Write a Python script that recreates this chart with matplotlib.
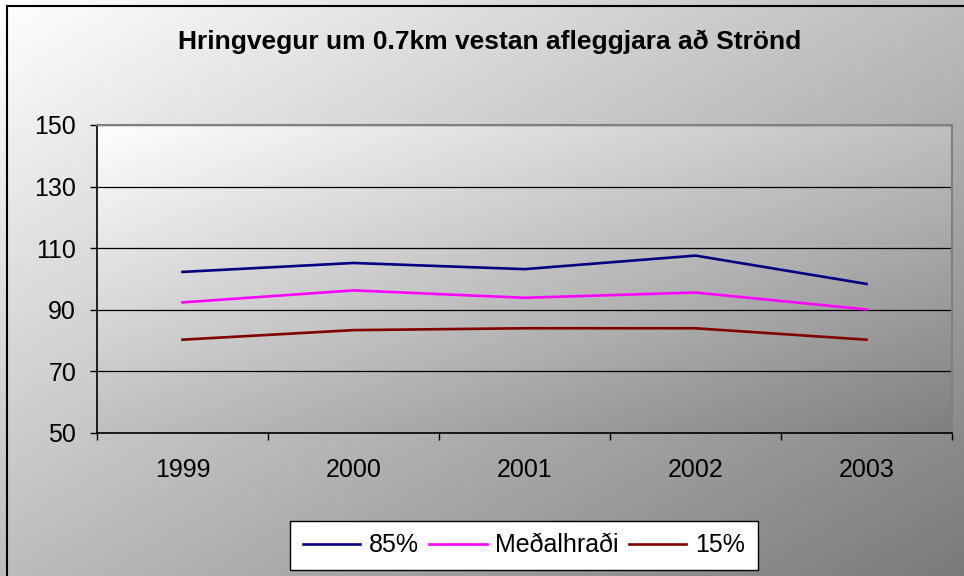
import numpy as np
import matplotlib.pyplot as plt
from matplotlib.patches import Rectangle

plt.rcParams["font.family"] = ["Liberation Sans", "DejaVu Sans"]

years = ["1999", "2000", "2001", "2002", "2003"]
p85 = [102.3, 105.2, 103.2, 107.6, 98.4]
medal = [92.4, 96.3, 93.9, 95.6, 90.1]
p15 = [80.3, 83.4, 84.0, 84.0, 80.3]

W, H = 964, 576
fig = plt.figure(figsize=(W / 100, H / 100), dpi=100)


def gradient(n=256, lo=1.0, hi=0.5):
    xx, yy = np.meshgrid(np.linspace(0, 1, n), np.linspace(0, 1, n))
    t = (xx + yy) / 2
    g = lo + (hi - lo) * t
    return np.dstack([g, g, g])


# figure background with diagonal gradient and frame
bg = fig.add_axes([0, 0, 1, 1], zorder=-2)
bg.imshow(gradient(lo=1.0, hi=0.48), extent=[0, 1, 0, 1], aspect="auto",
          origin="upper")
bg.add_patch(Rectangle((7 / W, -0.1), 1.2, 1 - 6 / H + 0.1, fill=False,
                       ec="black", lw=1.5))
bg.set_xlim(0, 1); bg.set_ylim(0, 1)
bg.axis("off")

ax = fig.add_axes([97 / W, 1 - 433 / H, (952 - 97) / W, (433 - 125) / H])
ax.imshow(gradient(lo=1.0, hi=0.5), extent=[0, 1, 0, 1], aspect="auto",
          origin="upper", transform=ax.transAxes, zorder=0)

x = np.arange(len(years))
ax.plot(x, p85, color="#000080", lw=1.9, label="85%", zorder=3)
ax.plot(x, medal, color="#FF00FF", lw=1.9, label="Meðalhraði", zorder=3)
ax.plot(x, p15, color="#800000", lw=1.9, label="15%", zorder=3)

ax.set_xlim(-0.5, len(years) - 0.5)
ax.set_ylim(50, 150)
ax.set_yticks([50, 70, 90, 110, 130, 150])
ax.set_xticks(x)
ax.set_xticklabels(years)
ax.set_xticks(np.arange(-0.5, len(years)), minor=True)
ax.tick_params(axis="x", which="major", length=0, pad=18, labelsize=18)
ax.tick_params(axis="x", which="minor", length=5, width=1, direction="out")
ax.tick_params(axis="y", length=5, width=1, pad=10, labelsize=18)
ax.grid(axis="y", color="black", lw=0.9, zorder=1)
ax.set_axisbelow(True)
for s in ["left", "bottom"]:
    ax.spines[s].set_color("black")
    ax.spines[s].set_linewidth(1.2)
for s in ["top", "right"]:
    ax.spines[s].set_color("#808080")
    ax.spines[s].set_linewidth(1.5)

fig.text(490 / W, 1 - 42 / H, "Hringvegur um 0.7km vestan afleggjara að Strönd",
         ha="center", va="center", fontsize=19, fontweight="bold")

leg = fig.legend(loc="center", bbox_to_anchor=(524 / W, 1 - 545.5 / H), ncol=3,
                 fontsize=18, frameon=True, fancybox=False, handlelength=2.3,
                 columnspacing=0.4, handletextpad=0.35, borderpad=0.5,
                 borderaxespad=0)
leg.get_frame().set_edgecolor("black")
leg.get_frame().set_facecolor("white")
leg.get_frame().set_alpha(1)
leg.get_frame().set_linewidth(1.0)

fig.savefig("out.png", dpi=100)
